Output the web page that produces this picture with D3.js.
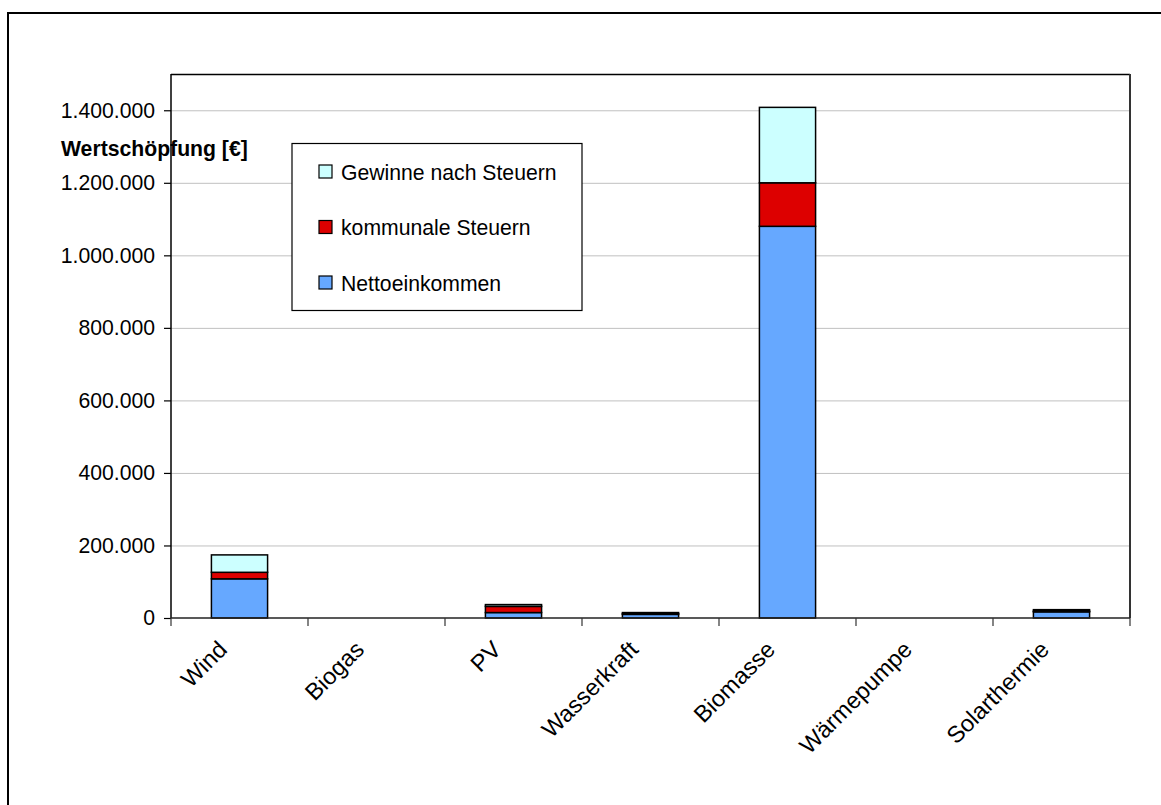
<!DOCTYPE html>
<html><head><meta charset="utf-8">
<script src="https://cdn.jsdelivr.net/npm/d3@7/dist/d3.min.js"></script>
<style>body{margin:0;background:#fff}svg{display:block}text{font-family:"Liberation Sans",Arial,sans-serif}</style>
</head><body><svg id="c" width="1161" height="805"></svg>
<script>
const categories = ["Wind","Biogas","PV","Wasserkraft","Biomasse","Wärmepumpe","Solarthermie"];
const seriesNames = ["Nettoeinkommen","kommunale Steuern","Gewinne nach Steuern"];
const netto   = [108000, 0, 15000, 10000, 1080000, 0, 17000];
const steuern = [18000, 0, 17000, 2000, 120000, 0, 2000];
const gewinne = [48000, 0, 5000, 3000, 208000, 0, 4000];
const colors = ["#66a8ff","#dd0000","#ccffff"];
const yTicks = [0,200000,400000,600000,800000,1000000,1200000,1400000];
const yLabel = "Wertschöpfung [€]";

const svg = d3.select("#c");
const L=171, R=1130, T=74, B=618;
const x = d3.scaleBand().domain(categories).range([L,R]).paddingInner(0.59).paddingOuter(0.295);
const xb = d3.scaleBand().domain(categories).range([L,R]);
const y = d3.scaleLinear().domain([0,1500000]).range([B,T]);
const fmt = v => d3.format(",")(v).replace(/,/g,".");
const FS = 21.2;

// outer frame (left & top only visible)
svg.append("path").attr("d","M8,805 V13 H1161").attr("fill","none").attr("stroke","#000").attr("stroke-width",2);

// gridlines
svg.append("g").selectAll("line").data(yTicks.filter(d=>d>0)).join("line")
  .attr("x1",L).attr("x2",R).attr("y1",d=>y(d)+0.5).attr("y2",d=>y(d)+0.5)
  .attr("stroke","#c0c0c0").attr("stroke-width",1);

// plot border top & right
svg.append("line").attr("x1",L).attr("x2",R).attr("y1",T+0.5).attr("y2",T+0.5).attr("stroke","#000").attr("stroke-width",1.5);
svg.append("line").attr("x1",R).attr("x2",R).attr("y1",T).attr("y2",B).attr("stroke","#333").attr("stroke-width",2);

// stacked bars
const data = categories.map((c,i)=>({cat:c, Nettoeinkommen:netto[i], "kommunale Steuern":steuern[i], "Gewinne nach Steuern":gewinne[i]}));
const stack = d3.stack().keys(seriesNames)(data);
svg.append("g").selectAll("g").data(stack).join("g").attr("fill",(d,i)=>colors[i])
  .selectAll("rect").data(d=>d.filter(e=>e[1]-e[0]>0)).join("rect")
  .attr("x",d=>x(d.data.cat)).attr("width",x.bandwidth())
  .attr("y",d=>y(d[1])).attr("height",d=>y(d[0])-y(d[1]))
  .attr("stroke","#000").attr("stroke-width",1.5);

// y axis
const ya = svg.append("g").attr("transform",`translate(${L},0)`)
  .call(d3.axisLeft(y).tickValues(yTicks).tickFormat(fmt).tickSize(7).tickPadding(9));
ya.select(".domain").attr("d",`M0,${T}V${B}`).attr("stroke","#000").attr("stroke-width",1.5);
ya.selectAll(".tick line").attr("stroke","#000").attr("stroke-width",1.2);
ya.selectAll("text").attr("font-size",FS).attr("fill","#000").attr("font-family","Liberation Sans, Arial, sans-serif");

// x axis
const xa = svg.append("g").attr("transform",`translate(0,${B})`)
  .call(d3.axisBottom(xb).tickSize(0).tickFormat(""));
xa.select(".domain").attr("d",`M${L},0H${R}`).attr("stroke","#222").attr("stroke-width",1.5);
xa.selectAll(".tick").remove();
svg.append("g").selectAll("line").data(d3.range(categories.length+1)).join("line")
  .attr("x1",i=>i<categories.length?xb(categories[i]):R).attr("x2",i=>i<categories.length?xb(categories[i]):R)
  .attr("y1",B).attr("y2",B+8).attr("stroke","#333").attr("stroke-width",1.2);
svg.append("g").selectAll("text").data(categories).join("text")
  .attr("transform",d=>`translate(${xb(d)+xb.bandwidth()/2-11},${B+33}) rotate(-45)`)
  .attr("text-anchor","end").attr("font-size",23.5).attr("fill","#000").text(d=>d);

// y label
svg.append("text").attr("x",61).attr("y",156).attr("font-size",FS).attr("font-weight","bold").text(yLabel);

// legend
const lg = svg.append("g");
lg.append("rect").attr("x",292).attr("y",143.5).attr("width",290).attr("height",167).attr("fill","#fff").attr("stroke","#000").attr("stroke-width",1.2);
const legItems = [2,1,0];
lg.selectAll("g.it").data(legItems).join("g").attr("class","it")
  .attr("transform",(d,i)=>`translate(319,${172+i*55.5})`)
  .each(function(d){
    const g=d3.select(this);
    g.append("rect").attr("x",0).attr("y",-7).attr("width",13).attr("height",13).attr("fill",colors[d]).attr("stroke","#000").attr("stroke-width",1.2);
    g.append("text").attr("x",22).attr("y",7.5).attr("font-size",FS).text(seriesNames[d]);
  });
</script></body></html>
